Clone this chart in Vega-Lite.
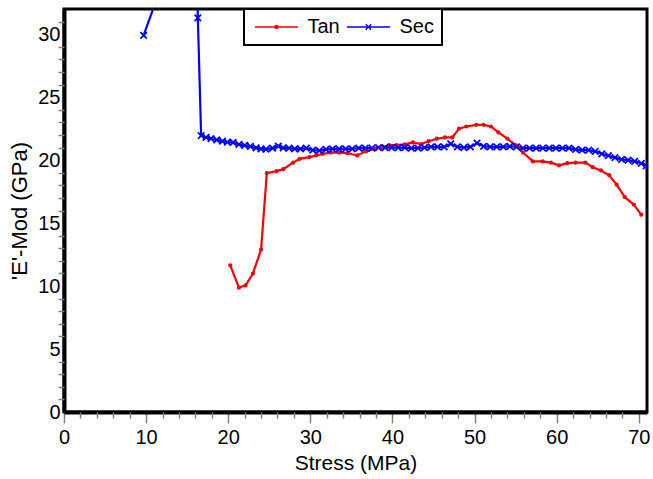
{
  "$schema": "https://vega.github.io/schema/vega-lite/v6.json",
  "width": 583,
  "height": 403,
  "autosize": {"type": "none"},
  "padding": {"left": 64, "top": 9, "right": 6, "bottom": 67},
  "background": "white",
  "config": {
    "view": {"stroke": "black", "strokeWidth": 3},
    "font": "Liberation Sans",
    "axis": {"grid": false, "labelFont": "Liberation Sans", "titleFont": "Liberation Sans", "labelColor": "black", "titleColor": "black", "titleFontWeight": "normal", "labelFlush": false, "labelOverlap": false}
  },
  "data": {"values": [
    {"series": "Sec", "stress": 9.7, "emod": 29.9},
    {"series": "Sec", "stress": 12.5, "emod": 35},
    {"series": "Sec", "stress": 16.1, "emod": 40},
    {"series": "Sec", "stress": 16.3, "emod": 31.3},
    {"series": "Sec", "stress": 16.7, "emod": 21.95},
    {"series": "Sec", "stress": 17.3, "emod": 21.8},
    {"series": "Sec", "stress": 17.9, "emod": 21.7},
    {"series": "Sec", "stress": 18.6, "emod": 21.6},
    {"series": "Sec", "stress": 19.3, "emod": 21.5},
    {"series": "Sec", "stress": 19.9, "emod": 21.43},
    {"series": "Sec", "stress": 20.6, "emod": 21.4},
    {"series": "Sec", "stress": 21.3, "emod": 21.25},
    {"series": "Sec", "stress": 22.0, "emod": 21.17},
    {"series": "Sec", "stress": 22.7, "emod": 21.1},
    {"series": "Sec", "stress": 23.4, "emod": 20.98},
    {"series": "Sec", "stress": 24.0, "emod": 20.9},
    {"series": "Sec", "stress": 24.6, "emod": 20.88},
    {"series": "Sec", "stress": 25.4, "emod": 20.95},
    {"series": "Sec", "stress": 26.1, "emod": 21.12},
    {"series": "Sec", "stress": 26.7, "emod": 20.98},
    {"series": "Sec", "stress": 27.4, "emod": 20.95},
    {"series": "Sec", "stress": 28.1, "emod": 20.9},
    {"series": "Sec", "stress": 28.8, "emod": 20.9},
    {"series": "Sec", "stress": 29.5, "emod": 20.95},
    {"series": "Sec", "stress": 30.3, "emod": 20.8},
    {"series": "Sec", "stress": 31.1, "emod": 20.75},
    {"series": "Sec", "stress": 31.9, "emod": 20.85},
    {"series": "Sec", "stress": 32.7, "emod": 20.9},
    {"series": "Sec", "stress": 33.5, "emod": 20.9},
    {"series": "Sec", "stress": 34.3, "emod": 20.9},
    {"series": "Sec", "stress": 35.1, "emod": 20.9},
    {"series": "Sec", "stress": 35.9, "emod": 20.95},
    {"series": "Sec", "stress": 36.7, "emod": 20.95},
    {"series": "Sec", "stress": 37.5, "emod": 20.95},
    {"series": "Sec", "stress": 38.3, "emod": 21.0},
    {"series": "Sec", "stress": 39.1, "emod": 21.0},
    {"series": "Sec", "stress": 39.9, "emod": 21.0},
    {"series": "Sec", "stress": 40.7, "emod": 21.0},
    {"series": "Sec", "stress": 41.5, "emod": 21.0},
    {"series": "Sec", "stress": 42.3, "emod": 20.95},
    {"series": "Sec", "stress": 43.1, "emod": 20.95},
    {"series": "Sec", "stress": 43.9, "emod": 21.0},
    {"series": "Sec", "stress": 44.7, "emod": 21.05},
    {"series": "Sec", "stress": 45.5, "emod": 21.05},
    {"series": "Sec", "stress": 46.3, "emod": 21.05},
    {"series": "Sec", "stress": 47.1, "emod": 21.3},
    {"series": "Sec", "stress": 47.9, "emod": 21.05},
    {"series": "Sec", "stress": 48.7, "emod": 21.0},
    {"series": "Sec", "stress": 49.5, "emod": 21.05},
    {"series": "Sec", "stress": 50.3, "emod": 21.35},
    {"series": "Sec", "stress": 51.1, "emod": 21.1},
    {"series": "Sec", "stress": 51.9, "emod": 21.05},
    {"series": "Sec", "stress": 52.7, "emod": 21.05},
    {"series": "Sec", "stress": 53.5, "emod": 21.05},
    {"series": "Sec", "stress": 54.3, "emod": 21.1},
    {"series": "Sec", "stress": 55.1, "emod": 21.05},
    {"series": "Sec", "stress": 55.9, "emod": 20.95},
    {"series": "Sec", "stress": 56.7, "emod": 20.95},
    {"series": "Sec", "stress": 57.5, "emod": 20.95},
    {"series": "Sec", "stress": 58.3, "emod": 20.95},
    {"series": "Sec", "stress": 59.1, "emod": 20.95},
    {"series": "Sec", "stress": 59.9, "emod": 20.95},
    {"series": "Sec", "stress": 60.7, "emod": 20.95},
    {"series": "Sec", "stress": 61.5, "emod": 20.95},
    {"series": "Sec", "stress": 62.3, "emod": 20.85},
    {"series": "Sec", "stress": 63.1, "emod": 20.8},
    {"series": "Sec", "stress": 63.9, "emod": 20.8},
    {"series": "Sec", "stress": 64.7, "emod": 20.7},
    {"series": "Sec", "stress": 65.5, "emod": 20.5},
    {"series": "Sec", "stress": 66.3, "emod": 20.35},
    {"series": "Sec", "stress": 67.1, "emod": 20.2},
    {"series": "Sec", "stress": 67.9, "emod": 20.05},
    {"series": "Sec", "stress": 68.7, "emod": 20.0},
    {"series": "Sec", "stress": 69.5, "emod": 19.9},
    {"series": "Sec", "stress": 70.3, "emod": 19.75},
    {"series": "Sec", "stress": 70.9, "emod": 19.55},
    {"series": "Tan", "stress": 20.25, "emod": 11.64},
    {"series": "Tan", "stress": 21.3, "emod": 9.87},
    {"series": "Tan", "stress": 22.1, "emod": 10.06},
    {"series": "Tan", "stress": 23.0, "emod": 10.98},
    {"series": "Tan", "stress": 24.0, "emod": 12.9},
    {"series": "Tan", "stress": 24.7, "emod": 18.97},
    {"series": "Tan", "stress": 25.9, "emod": 19.13},
    {"series": "Tan", "stress": 26.7, "emod": 19.28},
    {"series": "Tan", "stress": 27.9, "emod": 19.8},
    {"series": "Tan", "stress": 28.7, "emod": 20.1},
    {"series": "Tan", "stress": 29.9, "emod": 20.24},
    {"series": "Tan", "stress": 30.7, "emod": 20.37},
    {"series": "Tan", "stress": 31.5, "emod": 20.5},
    {"series": "Tan", "stress": 32.5, "emod": 20.6},
    {"series": "Tan", "stress": 33.5, "emod": 20.6},
    {"series": "Tan", "stress": 34.5, "emod": 20.55},
    {"series": "Tan", "stress": 35.7, "emod": 20.37},
    {"series": "Tan", "stress": 36.8, "emod": 20.7},
    {"series": "Tan", "stress": 37.8, "emod": 20.88},
    {"series": "Tan", "stress": 38.7, "emod": 21.02},
    {"series": "Tan", "stress": 39.6, "emod": 21.2},
    {"series": "Tan", "stress": 40.5, "emod": 21.2},
    {"series": "Tan", "stress": 41.5, "emod": 21.25},
    {"series": "Tan", "stress": 42.5, "emod": 21.4},
    {"series": "Tan", "stress": 43.5, "emod": 21.27},
    {"series": "Tan", "stress": 44.4, "emod": 21.5},
    {"series": "Tan", "stress": 45.4, "emod": 21.7},
    {"series": "Tan", "stress": 46.4, "emod": 21.8},
    {"series": "Tan", "stress": 47.3, "emod": 21.8},
    {"series": "Tan", "stress": 48.1, "emod": 22.5},
    {"series": "Tan", "stress": 49.0, "emod": 22.67},
    {"series": "Tan", "stress": 50.2, "emod": 22.8},
    {"series": "Tan", "stress": 51.1, "emod": 22.8},
    {"series": "Tan", "stress": 52.0, "emod": 22.67},
    {"series": "Tan", "stress": 52.9, "emod": 22.2},
    {"series": "Tan", "stress": 54.0, "emod": 21.7},
    {"series": "Tan", "stress": 55.0, "emod": 21.2},
    {"series": "Tan", "stress": 55.9, "emod": 20.6},
    {"series": "Tan", "stress": 57.1, "emod": 19.9},
    {"series": "Tan", "stress": 58.3, "emod": 19.9},
    {"series": "Tan", "stress": 59.3, "emod": 19.8},
    {"series": "Tan", "stress": 60.3, "emod": 19.58},
    {"series": "Tan", "stress": 61.3, "emod": 19.76},
    {"series": "Tan", "stress": 62.3, "emod": 19.8},
    {"series": "Tan", "stress": 63.5, "emod": 19.8},
    {"series": "Tan", "stress": 64.4, "emod": 19.44},
    {"series": "Tan", "stress": 65.4, "emod": 19.18},
    {"series": "Tan", "stress": 66.4, "emod": 18.8},
    {"series": "Tan", "stress": 67.3, "emod": 18.05},
    {"series": "Tan", "stress": 68.3, "emod": 17.06},
    {"series": "Tan", "stress": 69.4, "emod": 16.46},
    {"series": "Tan", "stress": 70.3, "emod": 15.67}
  ]},
  "layer": [
    {
      "mark": {"type": "line", "strokeWidth": 2.2, "clip": true},
      "encoding": {
        "x": {"field": "stress", "type": "quantitative", "scale": {"domain": [0, 71], "nice": false, "zero": false},
          "axis": {"orient": "bottom", "values": [0, 10, 20, 30, 40, 50, 60, 70], "tickSize": 11, "tickColor": "#808080", "tickWidth": 1.5, "domainColor": "black", "domainWidth": 4, "labelFontSize": 20, "labelPadding": 4, "title": "Stress (MPa)", "titleFontSize": 21, "titlePadding": 5}},
        "y": {"field": "emod", "type": "quantitative", "scale": {"domain": [0, 32], "nice": false, "zero": false},
          "axis": {"orient": "left", "values": [0, 5, 10, 15, 20, 25, 30], "ticks": false, "domainColor": "black", "domainWidth": 4, "labelFontSize": 20, "labelPadding": 4, "title": "'E'-Mod (GPa)", "titleFontSize": 22, "titlePadding": 6}},
        "color": {"field": "series", "type": "nominal", "scale": {"domain": ["Tan", "Sec"], "range": ["#ff0000", "#0000ff"]},
          "legend": {
            "title": null, "orient": "none", "legendX": 180, "legendY": 0, "direction": "horizontal",
            "symbolSize": 324, "symbolOffset": 14.5, "labelOffset": 21, "columnPadding": 3, "padding": 8,
            "labelFontSize": 20, "labelFont": "Liberation Sans", "labelColor": "black",
            "labelExpr": "datum.label === 'Sec' ? 'Sec\u00a0\u00a0\u00a0' : datum.label",
            "encode": {
              "symbols": {"update": {
                "shape": {"signal": "datum.value === 'Tan' ? 'M-2.4,0H2.4M0.17,0A0.17,0.17 0 1,1 -0.17,0A0.17,0.17 0 1,1 0.17,0Z' : 'M-2.4,0H2.4M-0.3,-0.3L0.3,0.3M-0.3,0.3L0.3,-0.3'"},
                "fill": {"signal": "datum.value === 'Tan' ? '#ff0000' : 'transparent'"},
                "stroke": {"signal": "datum.value === 'Tan' ? '#ff0000' : '#0000ff'"},
                "strokeWidth": {"value": 1.5},
                "opacity": {"value": 1}
              }},
              "legend": {"update": {"stroke": {"value": "black"}, "strokeWidth": {"value": 2}, "fill": {"value": "white"}}}
            }
          }}
      }
    },
    {
      "transform": [{"filter": "datum.series === 'Tan'"}],
      "mark": {"type": "point", "shape": "circle", "filled": true, "size": 18, "opacity": 1, "color": "#ff0000", "clip": true},
      "encoding": {
        "x": {"field": "stress", "type": "quantitative", "scale": {"domain": [0, 71], "nice": false, "zero": false},
          "axis": {"orient": "bottom", "values": [2, 4, 6, 8, 12, 14, 16, 18, 22, 24, 26, 28, 32, 34, 36, 38, 42, 44, 46, 48, 52, 54, 56, 58, 62, 64, 66, 68], "tickSize": 6, "tickColor": "#808080", "tickWidth": 1.5, "labels": false, "domain": false, "title": null}},
        "y": {"field": "emod", "type": "quantitative", "scale": {"domain": [0, 32], "nice": false, "zero": false},
          "axis": {"orient": "left", "values": [1, 2, 3, 4, 6, 7, 8, 9, 11, 12, 13, 14, 16, 17, 18, 19, 21, 22, 23, 24, 26, 27, 28, 29, 31], "tickSize": 6, "tickColor": "#808080", "tickWidth": 1.5, "labels": false, "domain": false, "title": null}}
      }
    },
    {
      "transform": [{"filter": "datum.series === 'Sec'"}],
      "mark": {"type": "point", "shape": "M-1,-1L1,1M-1,1L1,-1", "filled": false, "size": 42, "strokeWidth": 1.8, "opacity": 1, "color": "#0000ff", "clip": true},
      "encoding": {
        "x": {"field": "stress", "type": "quantitative", "scale": {"domain": [0, 71], "nice": false, "zero": false}, "axis": null},
        "y": {"field": "emod", "type": "quantitative", "scale": {"domain": [0, 32], "nice": false, "zero": false}, "axis": null}
      }
    }
  ],
  "resolve": {"axis": {"x": "independent", "y": "independent"}}
}
